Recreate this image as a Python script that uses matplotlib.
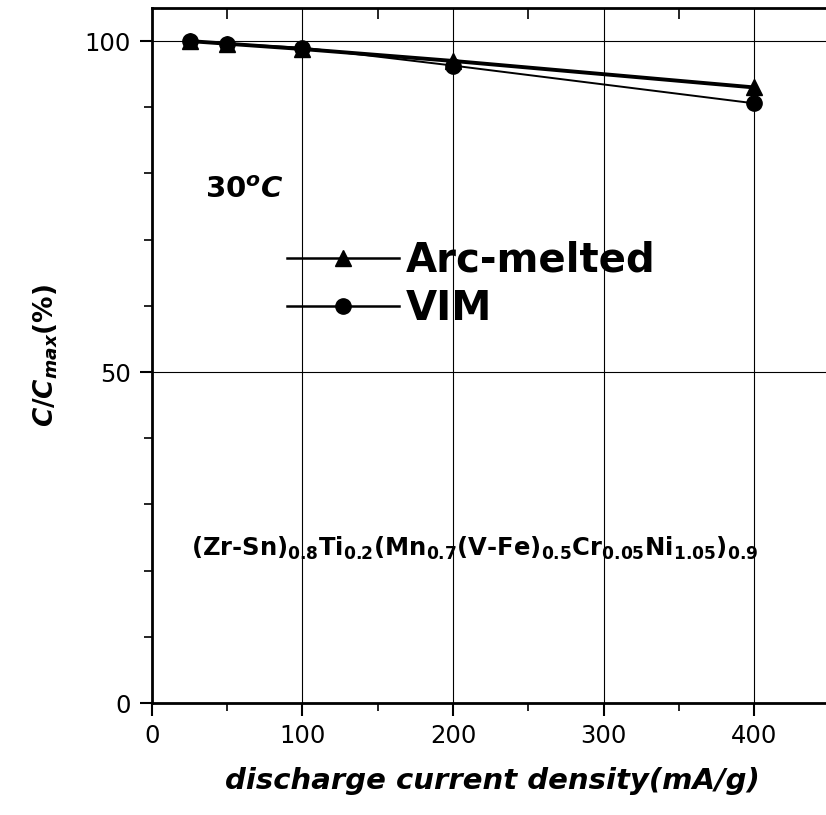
import matplotlib
matplotlib.use("Agg")
import matplotlib.pyplot as plt
from matplotlib.lines import Line2D
from matplotlib.ticker import MultipleLocator

# discharge current density (mA/g) and relative capacity C/Cmax (%)
current_density = [25, 50, 100, 200, 400]
arc_melted = [100.0, 99.6, 98.8, 97.0, 93.0]
vim = [100.0, 99.6, 99.0, 96.3, 90.6]

series_labels = ["Arc-melted", "VIM"]
x_ticks = [0, 100, 200, 300, 400]
y_ticks = [0, 50, 100]

plt.rcParams["font.family"] = ["DejaVu Sans"]
plt.rcParams["mathtext.fontset"] = "custom"
plt.rcParams["mathtext.rm"] = "DejaVu Sans:bold"
plt.rcParams["mathtext.it"] = "DejaVu Sans:italic:bold"
plt.rcParams["mathtext.bf"] = "DejaVu Sans:bold"

fig = plt.figure(figsize=(8.26, 8.15), dpi=100)
ax = fig.add_axes([0.184, 0.1374, 0.8236, 0.8528])

ax.set_xlim(0, 452)
ax.set_ylim(0, 105)

ax.plot(current_density, arc_melted, color="black", lw=2.8, marker="^",
        ms=12, zorder=4)
ax.plot(current_density, vim, color="black", lw=1.4, marker="o",
        ms=11, zorder=3)

ax.xaxis.set_major_locator(MultipleLocator(100))
ax.xaxis.set_minor_locator(MultipleLocator(50))
ax.yaxis.set_major_locator(MultipleLocator(50))
ax.yaxis.set_minor_locator(MultipleLocator(10))
ax.set_xticks(x_ticks)
ax.set_yticks(y_ticks)

ax.grid(True, which="major", color="black", lw=0.8)
ax.set_axisbelow(True)

for side in ["left", "bottom", "top", "right"]:
    ax.spines[side].set_linewidth(2.0)

ax.tick_params(axis="both", which="major", direction="out", length=9,
               width=1.5, labelsize=17.5, pad=6, top=False, right=False)
ax.tick_params(axis="both", which="minor", direction="out", length=6,
               width=1.2, top=False, right=False)

# inward ticks along the top edge
top = ax.secondary_xaxis("top")
top.set_xticks([50, 150, 250, 350, 450], labels=[])
top.tick_params(direction="in", length=8, width=1.2)
top.spines["top"].set_visible(False)

ax.set_xlabel("discharge current density(mA/g)", fontsize=21,
              fontweight="bold", fontstyle="italic", labelpad=14)
ax.set_ylabel(r"$\mathit{C/C_{max}(\%)}$", fontsize=19, labelpad=18)

ax.text(35, 77.5, r"$\mathit{30^{o}C}$", fontsize=21, va="center", ha="left")

formula = ("$\\mathbf{(Zr\u2010Sn)_{0.8}Ti_{0.2}(Mn_{0.7}(V\u2010Fe)_{0.5}"
           "Cr_{0.05}Ni_{1.05})_{0.9}}$")
ax.text(214.6, 23.4, formula, fontsize=17.5, va="center", ha="center")

handles = [
    Line2D([], [], color="black", lw=1.8, marker="^", ms=12),
    Line2D([], [], color="black", lw=1.8, marker="o", ms=11),
]
ax.legend(handles, series_labels, loc="upper left",
          bbox_to_anchor=(0.198, 0.665), frameon=False,
          prop={"weight": "bold", "size": 29}, handlelength=2.8,
          handletextpad=0.15, labelspacing=0.2, borderpad=0,
          borderaxespad=0)

fig.savefig("out.png", dpi=100)
